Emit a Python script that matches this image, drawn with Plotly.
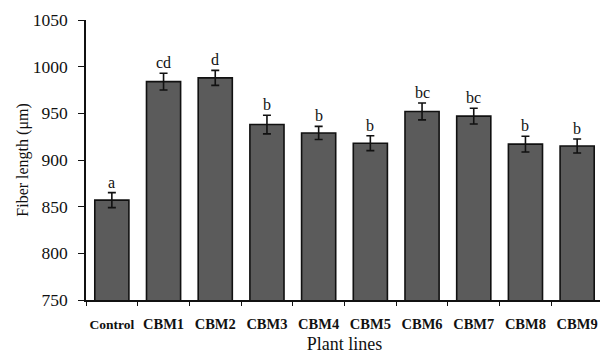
import plotly.graph_objects as go

categories = ["Control", "CBM1", "CBM2", "CBM3", "CBM4", "CBM5", "CBM6", "CBM7", "CBM8", "CBM9"]
values = [857, 984, 988, 938, 929, 918, 952, 947, 917, 915]
errors = [8, 9, 8, 10, 7, 8, 9, 8.5, 8.5, 7.5]
letters = ["a", "cd", "d", "b", "b", "b", "bc", "bc", "b", "b"]
y_ticks = [750, 800, 850, 900, 950, 1000, 1050]

serif = "Liberation Serif, Times New Roman, serif"

tick_text = [
    ('<span style="font-size:13.5px">%s</span>' % c) if c == "Control" else c
    for c in categories
]

fig = go.Figure()
fig.add_trace(go.Bar(
    x=categories, y=values,
    marker=dict(color="#5b5b5b", line=dict(color="#111111", width=1.6)),
    width=0.66,
    error_y=dict(type="data", array=errors, color="#111111", thickness=1.6, width=4),
))

for c, v, e, t in zip(categories, values, errors, letters):
    fig.add_annotation(x=c, y=v + e, text=t, showarrow=False, yanchor="bottom",
                       yshift=0, font=dict(family=serif, size=16, color="#111111"))

# page body has an 8px margin, so the figure is 600x346 with margins shifted accordingly
fig.update_layout(
    width=600, height=346,
    margin=dict(l=78, r=5, t=12, b=54),
    paper_bgcolor="white", plot_bgcolor="white",
    showlegend=False,
    bargap=0.34,
    xaxis=dict(
        type="category", tickson="boundaries", ticks="outside", ticklen=4,
        tickcolor="#111111", showline=True, linecolor="#111111", linewidth=1.5,
        showgrid=False, tickangle=0, automargin=False,
        tickvals=categories, ticktext=tick_text,
        ticklabelstandoff=10,
        tickfont=dict(family=serif, size=14.5, color="#111111", weight="bold"),
        title=dict(text="Plant lines", font=dict(family=serif, size=18, color="#111111"), standoff=11),
    ),
    yaxis=dict(
        range=[750, 1050], tickvals=y_ticks, ticks="outside", ticklen=6,
        tickcolor="#111111", showline=True, linecolor="#111111", linewidth=1.5,
        showgrid=False, zeroline=False, automargin=False,
        ticklabelstandoff=7,
        tickfont=dict(family=serif, size=17.5, color="#111111"),
        title=dict(text="Fiber length (μm)", font=dict(family=serif, size=16, color="#111111"), standoff=0),
    ),
)

fig.write_html("out.html")
